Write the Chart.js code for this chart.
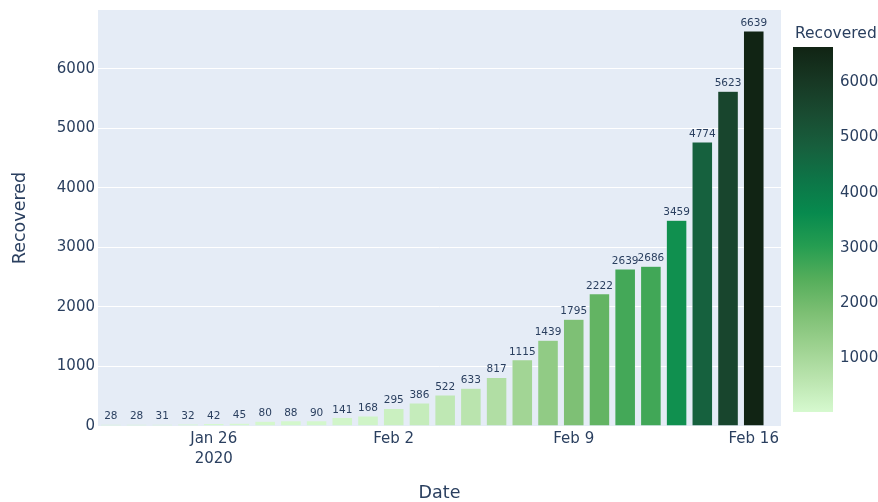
<!DOCTYPE html>
<html>
<head>
<meta charset="utf-8">
<script src="https://cdn.jsdelivr.net/npm/chart.js@4.4.1/dist/chart.umd.min.js"></script>
<style>
    html, body { margin: 0; padding: 0; background: #fff; }
    #wrap { width: 878px; height: 502px; position: relative; }
</style>
</head>
<body>
<div id="wrap"><canvas id="recoveredChart"></canvas></div>
<script>
// data
const dates = ['Jan 22', 'Jan 23', 'Jan 24', 'Jan 25', 'Jan 26', 'Jan 27', 'Jan 28', 'Jan 29', 'Jan 30', 'Jan 31',
    'Feb 1', 'Feb 2', 'Feb 3', 'Feb 4', 'Feb 5', 'Feb 6', 'Feb 7', 'Feb 8', 'Feb 9', 'Feb 10',
    'Feb 11', 'Feb 12', 'Feb 13', 'Feb 14', 'Feb 15', 'Feb 16'];
const recovered = [28, 28, 31, 32, 42, 45, 80, 88, 90, 141, 168, 295, 386, 522, 633, 817,
    1115, 1439, 1795, 2222, 2639, 2686, 3459, 4774, 5623, 6639];
const yTicks = [0, 1000, 2000, 3000, 4000, 5000, 6000];
const xTickDates = ['Jan 26', 'Feb 2', 'Feb 9', 'Feb 16'];
const xTickLabels = [['Jan 26', '2020'], 'Feb 2', 'Feb 9', 'Feb 16'];
const colorbarTicks = [1000, 2000, 3000, 4000, 5000, 6000];

// plotly "algae" scale
const algae = [
    [214, 249, 207], [186, 228, 174], [156, 209, 143], [124, 191, 115],
    [85, 174, 91], [37, 157, 81], [7, 138, 78], [13, 117, 71],
    [23, 95, 61], [25, 75, 49], [23, 55, 35], [17, 36, 20]
];

const TEXT = '#2a3f5f';
const FONT = "'DejaVu Sans', sans-serif";
const cmin = Math.min(...recovered);
const cmax = Math.max(...recovered);

function algaeColor(t) {
    t = Math.max(0, Math.min(1, t));
    const pos = t * (algae.length - 1);
    const i = Math.min(Math.floor(pos), algae.length - 2);
    const f = pos - i;
    const c = algae[i].map((v, k) => Math.round(v + (algae[i + 1][k] - v) * f));
    return `rgb(${c[0]},${c[1]},${c[2]})`;
}

const barColors = recovered.map((v) => algaeColor((v - cmin) / (cmax - cmin)));

const plotBg = {
    id: 'plotBg',
    beforeDraw(chart) {
        const { ctx, chartArea: a } = chart;
        ctx.save();
        ctx.fillStyle = '#E5ECF6';
        ctx.fillRect(a.left, a.top, a.right - a.left, a.bottom - a.top);
        ctx.restore();
    }
};

const barText = {
    id: 'barText',
    afterDatasetsDraw(chart) {
        const { ctx } = chart;
        const meta = chart.getDatasetMeta(0);
        ctx.save();
        ctx.font = `10.5px ${FONT}`;
        ctx.fillStyle = TEXT;
        ctx.textAlign = 'center';
        ctx.textBaseline = 'alphabetic';
        meta.data.forEach((bar, i) => {
            ctx.fillText(String(recovered[i]), bar.x, bar.y - 5);
        });
        ctx.restore();
    }
};

const colorbar = {
    id: 'colorbar',
    afterDraw(chart) {
        const { ctx, chartArea: a } = chart;
        const left = a.right + 12;
        const width = 40;
        const top = 47;
        const bottom = 412;
        const toY = (v) => bottom - (v - cmin) / (cmax - cmin) * (bottom - top);

        ctx.save();
        const grad = ctx.createLinearGradient(0, bottom, 0, top);
        algae.forEach((c, i) => grad.addColorStop(i / (algae.length - 1), `rgb(${c[0]},${c[1]},${c[2]})`));
        ctx.fillStyle = grad;
        ctx.fillRect(left, top, width, bottom - top);

        ctx.fillStyle = TEXT;
        ctx.font = `15px ${FONT}`;
        ctx.textAlign = 'left';
        ctx.textBaseline = 'middle';
        colorbarTicks.forEach((v) => ctx.fillText(String(v), left + width + 7, toY(v)));

        ctx.font = `15.5px ${FONT}`;
        ctx.fillText('Recovered', left + 2, 34);
        ctx.restore();
    }
};

new Chart(document.getElementById('recoveredChart'), {
    type: 'bar',
    data: {
        datasets: [{
            label: 'Recovered',
            data: recovered.map((v, i) => ({ x: i, y: v })),
            backgroundColor: barColors,
            borderColor: '#E5ECF6',
            borderWidth: 0.5,
            barPercentage: 0.8,
            categoryPercentage: 1
        }]
    },
    options: {
        responsive: true,
        maintainAspectRatio: false,
        animation: false,
        layout: { padding: { top: 10, right: 97, left: 0, bottom: 0 } },
        plugins: {
            legend: { display: false },
            tooltip: { enabled: false }
        },
        scales: {
            x: {
                type: 'linear',
                offset: false,
                min: -0.5,
                max: 26.06,
                grid: { display: false, offset: false, drawTicks: false, tickLength: 0 },
                border: { display: false },
                afterBuildTicks: (scale) => {
                    scale.ticks = xTickDates.map((d) => ({ value: dates.indexOf(d) }));
                },
                afterFit: (scale) => {
                    scale.height = 76;
                    scale.paddingLeft = 0;
                    scale.paddingRight = 0;
                },
                ticks: {
                    color: TEXT,
                    font: { family: FONT, size: 15, lineHeight: 1.35 },
                    padding: 3,
                    maxRotation: 0,
                    autoSkip: false,
                    callback: (value) => xTickLabels[xTickDates.indexOf(dates[value])]
                },
                title: {
                    display: true,
                    text: 'Date',
                    color: TEXT,
                    font: { family: FONT, size: 17.5 },
                    padding: { top: 0, bottom: -2 }
                }
            },
            y: {
                min: 0,
                max: 6990,
                grid: { color: '#ffffff', lineWidth: 1, drawTicks: false },
                border: { display: false },
                afterBuildTicks: (scale) => {
                    scale.ticks = yTicks.map((v) => ({ value: v }));
                },
                afterFit: (scale) => {
                    scale.width = 98;
                    scale.paddingTop = 0;
                    scale.paddingBottom = 0;
                },
                ticks: {
                    color: TEXT,
                    font: { family: FONT, size: 15 },
                    padding: 3,
                    callback: (value) => String(value)
                },
                title: {
                    display: true,
                    text: 'Recovered',
                    color: TEXT,
                    font: { family: FONT, size: 17.5 },
                    padding: { top: 10, bottom: 0 }
                }
            }
        }
    },
    plugins: [plotBg, barText, colorbar]
});
</script>
</body>
</html>
